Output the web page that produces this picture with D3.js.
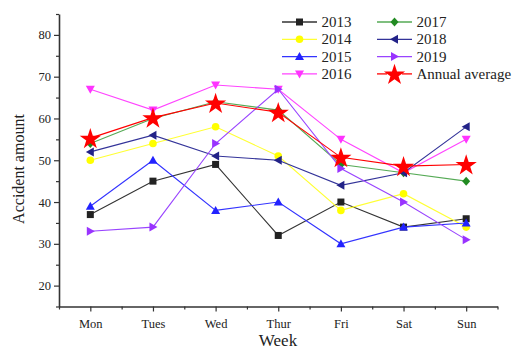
<!DOCTYPE html>
<html><head><meta charset="utf-8">
<script src="https://cdn.jsdelivr.net/npm/d3@7"></script>
<style>body{margin:0;background:#fff}svg{display:block}text{font-family:"Liberation Serif","Times New Roman",serif;fill:#222}</style>
</head><body><svg id="c" width="513" height="351"></svg>
<script>
const days = ["Mon","Tues","Wed","Thur","Fri","Sat","Sun"];
const s2013 = [37,45,49,32,40,34,36];
const s2014 = [50,54,58,51,38,42,34];
const s2015 = [39,50,38,40,30,34,35];
const s2016 = [67,62,68,67,55,47,55];
const s2017 = [54,60,64,62,49,47,45];
const s2018 = [52,56,51,50,44,47,58];
const s2019 = [33,34,54,67,48,40,31];
const avg   = [55.3,60.2,63.7,61.5,50.7,48.6,49.0];
const yTicks = [20,30,40,50,60,70,80];

const series = [
  {name:"2013", v:s2013, line:"#333333", fill:"#222222", sym:"square"},
  {name:"2014", v:s2014, line:"#ffff33", fill:"#ffff00", sym:"circle"},
  {name:"2015", v:s2015, line:"#3333ff", fill:"#2222ff", sym:"up"},
  {name:"2016", v:s2016, line:"#ff44ff", fill:"#ff33ff", sym:"down"},
  {name:"2017", v:s2017, line:"#55aa55", fill:"#228b22", sym:"diamond"},
  {name:"2018", v:s2018, line:"#333399", fill:"#222288", sym:"left"},
  {name:"2019", v:s2019, line:"#9944ff", fill:"#9933ff", sym:"right"},
  {name:"Annual average", v:avg, line:"#ff0000", fill:"#ff0000", sym:"star"}
];

const svg = d3.select("#c");
const x = d3.scaleLinear().domain([0.5,7.5]).range([59,497.5]);
const y = d3.scaleLinear().domain([15,85]).range([306.5,14]);

function marker(g, sym, cx, cy, fill){
  let p;
  const tri = (pts)=> g.append("path").attr("d","M"+pts.map(q=>(cx+q[0])+","+(cy+q[1])).join("L")+"Z").attr("fill",fill);
  if(sym==="square") p=g.append("rect").attr("x",cx-3.5).attr("y",cy-3.5).attr("width",7).attr("height",7).attr("fill",fill);
  else if(sym==="circle") p=g.append("circle").attr("cx",cx).attr("cy",cy).attr("r",3.8).attr("fill",fill);
  else if(sym==="up") p=tri([[0,-4.5],[4.5,3.5],[-4.5,3.5]]);
  else if(sym==="down") p=tri([[0,4.5],[4.5,-3.5],[-4.5,-3.5]]);
  else if(sym==="left") p=tri([[-4.5,0],[3.5,-4.5],[3.5,4.5]]);
  else if(sym==="right") p=tri([[4.5,0],[-3.5,-4.5],[-3.5,4.5]]);
  else if(sym==="diamond") p=tri([[0,-4.5],[4,0],[0,4.5],[-4,0]]);
  else if(sym==="star") p=g.append("path").attr("d",d3.symbol(d3.symbolStar,140)()).attr("transform",`translate(${cx},${cy+1})`).attr("fill",fill);
  return p;
}

// axes
const gx = svg.append("g").attr("transform","translate(0,306.5)");
gx.call(d3.axisBottom(x).tickValues(d3.range(1,8)).tickFormat(i=>days[i-1]).tickSize(5).tickSizeOuter(0));
gx.append("g").call(d3.axisBottom(x).tickValues(d3.range(0.5,8,1)).tickFormat("").tickSize(3)).select(".domain").remove();
const gy = svg.append("g").attr("transform","translate(59,0)");
gy.call(d3.axisLeft(y).tickValues(yTicks).tickSize(5).tickSizeOuter(0));
gy.append("g").call(d3.axisLeft(y).tickValues(d3.range(15,90,10)).tickFormat("").tickSize(3)).select(".domain").remove();
svg.selectAll(".domain").attr("stroke","#333").attr("stroke-width",1.6);
svg.selectAll(".tick line").attr("stroke","#333").attr("stroke-width",1.2);
svg.selectAll(".tick text").attr("font-family","Liberation Serif").attr("font-size",12.5).attr("fill","#222");
gx.selectAll(".tick text").attr("dy","1.05em");

// titles
svg.append("text").attr("x",278).attr("y",346).attr("text-anchor","middle").attr("font-size",17).text("Week");
svg.append("text").attr("transform","translate(24,169) rotate(-90)").attr("text-anchor","middle").attr("font-size",16).text("Accident amount");

// lines
const line = d3.line().x((d,i)=>x(i+1)).y(d=>y(d));
series.forEach(s=>{
  const g = svg.append("g");
  g.append("path").datum(s.v).attr("d",line).attr("fill","none").attr("stroke",s.line).attr("stroke-width",1.1);
  s.v.forEach((d,i)=>marker(g,s.sym,x(i+1),y(d),s.fill));
});

// legend
const leg = svg.append("g");
series.forEach((s,k)=>{
  const col = k<4?0:1, row = k%4;
  const x0 = col===0?282:377, cy = 22+row*17.3;
  const g = leg.append("g");
  if(s.sym==="star"){
    g.append("line").attr("x1",x0).attr("x2",x0+10).attr("y1",cy).attr("y2",cy).attr("stroke",s.line).attr("stroke-width",1.3);
    g.append("line").attr("x1",x0+25).attr("x2",x0+35).attr("y1",cy).attr("y2",cy).attr("stroke",s.line).attr("stroke-width",1.3);
  } else {
    g.append("line").attr("x1",x0).attr("x2",x0+35).attr("y1",cy).attr("y2",cy).attr("stroke",s.line).attr("stroke-width",1.3);
  }
  marker(g,s.sym,x0+17.5,cy,s.fill);
  g.append("text").attr("x",x0+39.5).attr("y",cy+5).attr("font-size",15).text(s.name);
});
</script></body></html>
